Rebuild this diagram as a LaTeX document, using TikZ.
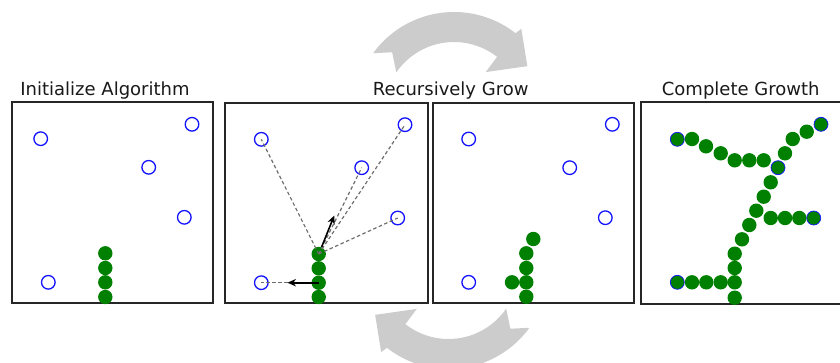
\documentclass[tikz,border=0pt]{standalone}
\usepackage{fontspec}
\setmainfont{DejaVu Sans}
\usetikzlibrary{arrows.meta}
\definecolor{leaf}{RGB}{0,128,0}
\definecolor{tgt}{RGB}{20,20,255}
\definecolor{arrowgray}{RGB}{204,204,204}
\definecolor{dashgray}{RGB}{110,110,110}
\def\PP#1#2{({(#2)*cos(#1)},{-(#2)*sin(#1)})}
\newcommand\GrayArc[3]{%
  \begin{scope}[shift={(#1,#2)}]
    \fill[arrowgray] \PP{144+#3}{100}
      arc[start angle={-144-#3}, end angle={-52-#3}, radius=100]
      -- \PP{51+#3}{107} -- \PP{32+#3}{86.5} -- \PP{51.5+#3}{51} -- \PP{52+#3}{70}
      arc[start angle={-52-#3}, end angle={-145.5-#3}, radius=70]
      -- \PP{136+#3}{86} -- cycle;
  \end{scope}}
\begin{document}
\begin{tikzpicture}[x=1pt,y=-1pt,
  panel/.style={draw=black!85,line width=1.3pt},
  target/.style={circle,draw=tgt,line width=1.3pt,minimum size=13.6pt,inner sep=0pt},
  dot/.style={circle,fill=leaf,minimum size=14.4pt,inner sep=0pt},
  hit/.style={circle,fill=leaf,draw=tgt,line width=0.7pt,minimum size=14pt,inner sep=0pt},
  title/.style={anchor=base,inner sep=0pt,text=black!90,font=\fontsize{18}{21}\selectfont},
  guide/.style={draw=dashgray,line width=1.2pt,dash pattern=on 3.5pt off 2.5pt},
  move/.style={draw=black,line width=1.6pt,-{Stealth[length=8.5pt,width=7.5pt]}}]
\useasboundingbox (0,0) rectangle (840,362);
\clip (0,0) rectangle (840,362);

% gray cycle arrows
\GrayArc{454}{112}{0}
\GrayArc{448.5}{269}{180}

% titles
\node[title] (t1) at (105,95) {Initialize Algorithm};
\node[title] (t2) at (450.7,95) {Recursively Grow};
\node[title] (t4) at (740.7,95) {Complete Growth};

% panels
\draw[panel] (12,102) rectangle (213,303);
\draw[panel] (225,103) rectangle (428,303);
\draw[panel] (433,103) rectangle (634,303);
\draw[panel] (641,102) rectangle (850,304);

% ---- panel 1
\node[target] (a1) at (40.7,138.7) {};
\node[target] (a2) at (192,124.3) {};
\node[target] (a3) at (148.7,167.3) {};
\node[target] (a4) at (184.3,217.3) {};
\node[target] (a5) at (48.3,282.3) {};
\node[dot] (ad1) at (105.3,253.3) {};
\node[dot] (ad2) at (105.3,268) {};
\node[dot] (ad3) at (105.3,282.3) {};
\node[dot] (ad4) at (105.3,297) {};

% ---- panel 2
\node[target] (b1) at (261.3,139.3) {};
\node[target] (b2) at (405,124.7) {};
\node[target] (b3) at (361.7,167.7) {};
\node[target] (b4) at (397.7,218) {};
\node[target] (b5) at (261.3,282.7) {};
\node[dot] (bd1) at (318.7,254) {};
\node[dot] (bd2) at (318.7,268.3) {};
\node[dot] (bd3) at (318.7,282.7) {};
\node[dot] (bd4) at (318.7,297) {};
\draw[guide] (bd1.center) -- (b1.center);
\draw[guide] (bd1.center) -- (b2.center);
\draw[guide] (bd1.center) -- (b3.center);
\draw[guide] (bd1.center) -- (b4.center);
\coordinate (up0) at (321.6,247);
\coordinate (up1) at (334.3,215.5);
\coordinate (lf1) at (287.5,282.7);
\draw[guide] (lf1) -- (b5.center);
\draw[move] (up0) -- (up1);
\draw[move] (bd3.center) -- (lf1);

% ---- panel 3
\node[target] (c1) at (468.7,139) {};
\node[target] (c2) at (612.3,124.3) {};
\node[target] (c3) at (569.7,167.7) {};
\node[target] (c4) at (605.3,217.7) {};
\node[target] (c5) at (468.7,282.3) {};
\node[dot] (cd1) at (533.3,239) {};
\node[dot] (cd2) at (526.3,253.3) {};
\node[dot] (cd3) at (526.3,268) {};
\node[dot] (cd4) at (526.3,282.3) {};
\node[dot] (cd5) at (526.3,296.7) {};
\node[dot] (cd6) at (512,282.3) {};

% ---- panel 4
\foreach \x/\y [count=\i] in {734.7/297.7,734.7/282.3,734.7/268,734.7/253.7,742/239.3,749.3/225,756.3/210.7,763.7/196.7,770.7/182.3,785/153.3,792.7/139,806.7/131.7,
  692/139,706/146.3,720.7/153.3,734.7/160.3,749.3/160.3,763.7/160.3,
  770.7/218,785/218,799.3/218,
  692/282.3,706.3/282.3,720.7/282.3}
  \node[dot] (dd\i) at (\x,\y) {};
\node[hit] (h1) at (677.3,139.3) {};
\node[hit] (h2) at (778,167.7) {};
\node[hit] (h3) at (821,124.3) {};
\node[hit] (h4) at (813.7,218) {};
\node[hit] (h5) at (677.3,282.3) {};
\end{tikzpicture}
\end{document}
